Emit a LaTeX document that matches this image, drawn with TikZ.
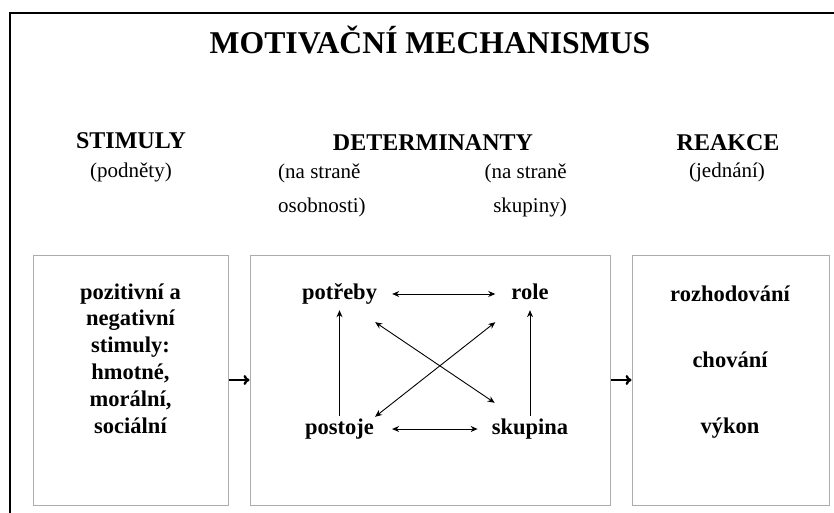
\documentclass[tikz,border=0pt]{standalone}
\usepackage{fontspec}
\setmainfont{Liberation Serif}
\usepackage{tikz}
\usetikzlibrary{arrows.meta}

\begin{document}
\begin{tikzpicture}[x=1pt,y=-1pt,
  box/.style={draw=gray!65, line width=1pt, minimum width=#1, minimum height=250pt, inner sep=0pt},
  box/.default=195pt,
  head/.style={font=\fontsize{24}{28}\selectfont\bfseries, anchor=base, inner sep=0pt},
  sub/.style={font=\fontsize{21}{34}\selectfont, inner sep=0pt},
  word/.style={font=\fontsize{22.5}{26.8}\selectfont\bfseries, inner sep=3pt, text height=15pt, text depth=5pt, anchor=base},
  link/.style={line width=0.9pt, >={Stealth[length=7pt,width=6pt]}},
  bigarrow/.style={-{To[length=6pt,width=10pt]}, line width=2.4pt}]
             \useasboundingbox (0,0) rectangle (834,513);

             % frame
             \draw[line width=2.5pt] (10,513) -- (10,13) -- (834,13);
             \node[font=\fontsize{31.7}{36}\selectfont\bfseries, anchor=base] (title) at (430,54) {MOTIVAČNÍ MECHANISMUS};

             % headings
             \node[head] (stimuly) at (131,149) {STIMULY};
             \node[head] (determ) at (433,150) {DETERMINANTY};
             \node[head] (reakce) at (728,150) {REAKCE};
             \node[sub, anchor=base] (podnety) at (131,178) {(podněty)};
             \node[sub, anchor=base] (jednani) at (727,178) {(jednání)};
             % multi-line nodes sit on their last line
             \node[sub, anchor=base west, align=left] (osob) at (278,212) {(na straně\\osobnosti)};
             \node[sub, anchor=base east, align=right] (skup) at (567,212) {(na straně\\skupiny)};

             % boxes
             \node[box] (stim) at (130.5,380) {};
             \node[box=360pt] (det) at (430,380) {};
             \node[box=197pt] (reak) at (730.5,380) {};
             \draw[bigarrow] (stim) -- (det);
             \draw[bigarrow] (det) -- (reak);

             \node[word, text height=, text depth=, align=center] (stimtext) at (130.5,433) {pozitivní a\\negativní\\stimuly:\\hmotné,\\morální,\\sociální};
             \node[word, text height=, text depth=, align=center, font=\fontsize{22.5}{66}\selectfont\bfseries] (reaktext) at (730,433) {rozhodování\\chování\\výkon};

             % determinants
             \node[word] (potreby) at (339.5,299) {potřeby};
             \node[word] (role) at (530,299) {role};
             \node[word] (postoje) at (339.5,434) {postoje};
             \node[word] (skupina) at (530,434) {skupina};

             \draw[link, <->, shorten <=12pt, shorten >=13pt] (potreby.east) -- (role.west);
             \draw[link, <->, shorten <=15pt, shorten >=11pt] (postoje.east) -- (skupina.west);
             \draw[link, ->, shorten >=3pt] (postoje.north) -- (potreby.south);
             \draw[link, ->, shorten >=3pt] (skupina.north) -- (role.south);
             \draw[link, <->] ([shift={(-5,15)}]potreby.south east) -- ([shift={(6,-13)}]skupina.north west);
             \draw[link, <->] ([shift={(-2,1)}]postoje.north east) -- ([shift={(-13,15)}]role.south west);
             \end{tikzpicture}
\end{document}
